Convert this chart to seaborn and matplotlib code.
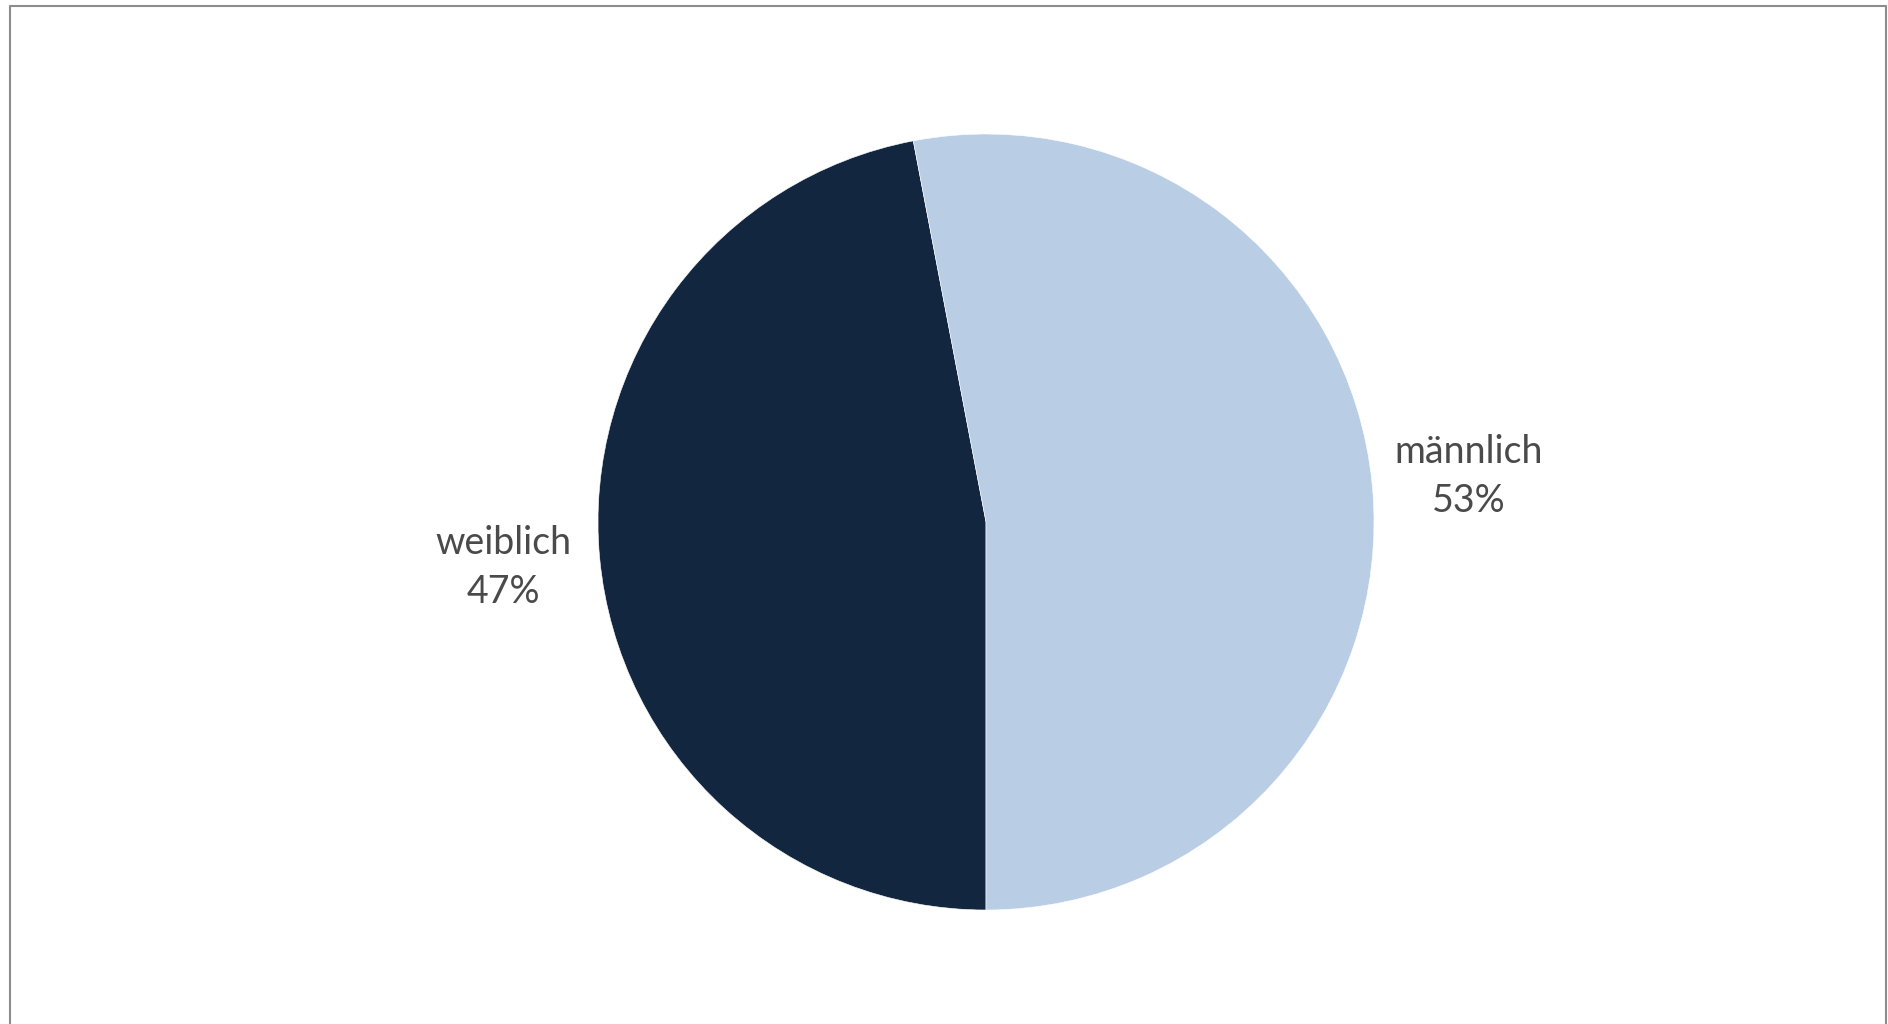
import matplotlib
matplotlib.use('Agg')
import matplotlib.pyplot as plt
import seaborn as sns
from matplotlib.lines import Line2D

categories = ['weiblich', 'männlich']
shares = [47, 53]
colors = ['#12263f', '#b9cde5']

sns.set_theme(style='white')
plt.rcParams['font.family'] = ['Lato', 'DejaVu Sans']

W, H = 1888, 1024
fig = plt.figure(figsize=(W / 100, H / 100), dpi=100)

# pie centre (986, 522) px from top-left, radius 388 px
cx, cy, r = 986, 522, 388
ax = fig.add_axes([(cx - r) / W, (H - cy - r) / H, 2 * r / W, 2 * r / H])

labels = [f'{c}\n{v}%' for c, v in zip(categories, shares)]
ax.pie(shares, labels=labels, colors=sns.color_palette(colors),
       startangle=-90, counterclock=False, labeldistance=1.25,
       wedgeprops=dict(edgecolor='white', linewidth=0.4),
       textprops=dict(fontsize=27, color='#4a4a4a', fontweight='normal',
                      ha='center', va='center', linespacing=1.45))
ax.set_xlim(-1, 1)
ax.set_ylim(-1, 1)
ax.set_aspect('equal')
ax.axis('off')

# chart frame (open at the bottom)
x0, x1, ytop = 10 / W, 1886 / W, (H - 6) / H
fig.add_artist(Line2D([x0, x0, x1, x1], [0, ytop, ytop, 0],
                      transform=fig.transFigure, color='#8c8c8c', linewidth=1.5))

fig.savefig('out.png', dpi=100, facecolor='white')
